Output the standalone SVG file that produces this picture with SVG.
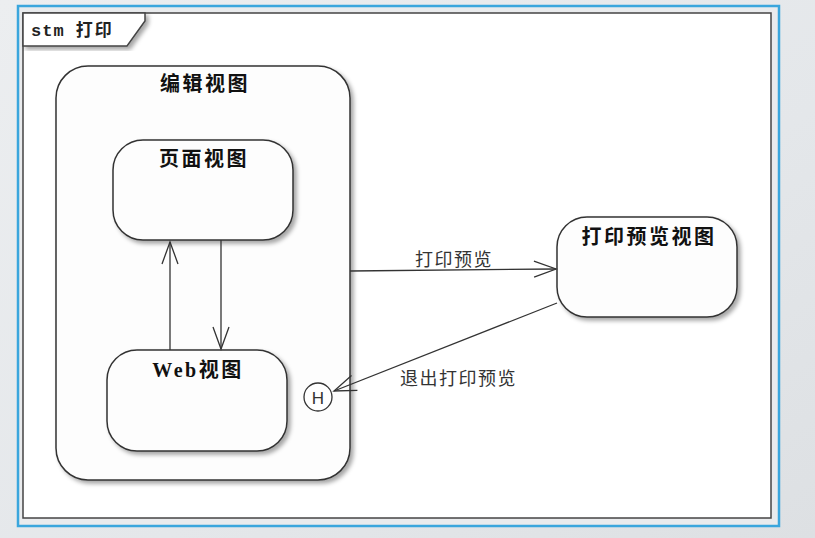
<svg xmlns="http://www.w3.org/2000/svg" width="815" height="538" viewBox="0 0 815 538">
<defs>
<linearGradient id="bg" x1="0" y1="0" x2="1" y2="1">
<stop offset="0" stop-color="#eceef0"/>
<stop offset="0.6" stop-color="#e4e7ea"/>
<stop offset="1" stop-color="#dde0e3"/>
</linearGradient>
<filter id="sh" x="-10%" y="-10%" width="125%" height="125%">
<feDropShadow dx="3" dy="3" stdDeviation="2" flood-color="#000" flood-opacity="0.35"/>
</filter>
<marker id="arr" viewBox="-24 -10 26 20" refX="0" refY="0" markerWidth="26" markerHeight="20" orient="auto" markerUnits="userSpaceOnUse">
<path d="M-22,-8 L0,0 L-22,8" fill="none" stroke="#333" stroke-width="1.3"/>
</marker>
</defs>
<style>
.state{fill:#fdfdfd;stroke:#333;stroke-width:1.5;filter:url(#sh)}
.title{font-family:"Noto Sans CJK SC","Liberation Serif",serif;font-weight:bold;font-size:20px;letter-spacing:2.5px;fill:#111;text-anchor:middle}
.lbl{font-family:"Noto Sans CJK SC","Liberation Sans",sans-serif;font-size:18px;letter-spacing:1.5px;fill:#333}
.edge{fill:none;stroke:#333;stroke-width:1.3;marker-end:url(#arr)}
</style>
<rect x="0" y="0" width="815" height="538" fill="url(#bg)"/>
<!-- frame -->
<g id="frame">
<rect x="18" y="6" width="761" height="520" fill="#e9ebed" stroke="#3aa6dd" stroke-width="2.5"/>
<rect x="23" y="13" width="748" height="505" fill="#ffffff" stroke="#444" stroke-width="1.5"/>
<path d="M23,13 L145,13 L145,21 L127,46 L23,46 Z" fill="#ffffff" stroke="#444" stroke-width="1.5" filter="url(#sh)"/>
<text x="31" y="36" font-family="Liberation Mono, monospace" font-weight="bold" font-size="17" letter-spacing="1" fill="#222">stm <tspan font-family="Noto Sans CJK SC, sans-serif" letter-spacing="2">打印</tspan></text>
</g>
<g id="edit-view">
<rect class="state" x="56" y="66" width="294" height="414" rx="32" ry="32"/>
<text class="title" x="205" y="91">编辑视图</text>
</g>
<g id="page-view">
<rect class="state" x="113" y="140" width="180" height="100" rx="30" ry="30"/>
<text class="title" x="204" y="166">页面视图</text>
</g>
<g id="web-view">
<rect class="state" x="107" y="350" width="180" height="101" rx="30" ry="30"/>
<text class="title" x="198" y="377"><tspan font-family="Liberation Serif, serif">Web</tspan>视图</text>
</g>
<g id="print-preview-view">
<rect class="state" x="557" y="217" width="180" height="100" rx="30" ry="30"/>
<text class="title" x="649" y="244">打印预览视图</text>
</g>
<g id="history">
<circle cx="318" cy="397" r="14" fill="#fff" stroke="#333" stroke-width="1.3"/>
<text x="318" y="403.5" font-family="Liberation Sans, sans-serif" font-size="17" fill="#333" text-anchor="middle">H</text>
</g>
<g id="connectors">
<line class="edge" x1="170" y1="350" x2="170" y2="242"/>
<line class="edge" x1="221" y1="240" x2="221" y2="349"/>
<line class="edge" x1="350" y1="271" x2="556" y2="269"/>
<line class="edge" x1="557" y1="303" x2="334" y2="391"/>
<text class="lbl" x="415" y="266">打印预览</text>
<text class="lbl" x="400" y="385">退出打印预览</text>
</g>
</svg>
